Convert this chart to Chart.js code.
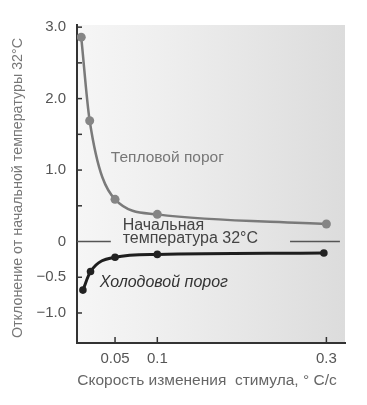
<!DOCTYPE html>
<html>
<head>
<meta charset="utf-8">
<script src="https://cdn.jsdelivr.net/npm/chart.js@4.4.1/dist/chart.umd.min.js"></script>
<style>
    html, body { margin: 0; padding: 0; background: #fff; }
    #wrap { width: 367px; height: 405px; }
</style>
</head>
<body>
<div id="wrap"><canvas id="porogChart"></canvas></div>
<script>
// данные
const heatX = [0.01, 0.02, 0.05, 0.1, 0.3];
const heatY = [2.86, 1.69, 0.59, 0.38, 0.245];
const coldX = [0.012, 0.021, 0.05, 0.1, 0.297];
const coldY = [-0.68, -0.42, -0.22, -0.18, -0.16];

const xTicks = [0.05, 0.1, 0.3];
const xTickLabels = ['0.05', '0.1', '0.3'];
const yTicks = [3, 2.5, 2, 1.5, 1, 0.5, 0, -0.5, -1];
const yTickLabels = ['3.0', '', '2.0', '', '1.0', '', '0', '\u22120.5', '\u22121.0'];

const xTitle = 'Скорость изменения  стимула, ° С/с';
const yTitle = 'Отклонение от начальной температуры 32°C';
const heatLabel = 'Тепловой порог';
const coldLabel = 'Холодовой порог';
const startLabel = ['Начальная', 'температура 32°C'];

const toPoints = (xs, ys) => xs.map((x, i) => ({ x: x, y: ys[i] }));

const font = '"Liberation Sans", Arial, sans-serif';

const extras = {
    id: 'extras',
    beforeDraw(chart) {
        const { ctx, chartArea: a } = chart;
        const g = ctx.createLinearGradient(a.left, 0, a.right, 0);
        g.addColorStop(0, '#f6f6f6');
        g.addColorStop(0.3, '#efefef');
        g.addColorStop(1, '#dcdcdc');
        ctx.save();
        ctx.fillStyle = g;
        ctx.fillRect(a.left, a.top, a.right - a.left, a.bottom - a.top);
        ctx.restore();
    },
    afterDraw(chart) {
        const { ctx, chartArea: a, scales: { x, y } } = chart;
        ctx.save();
        // засечки внутрь
        ctx.strokeStyle = '#333';
        ctx.lineWidth = 1.5;
        yTicks.forEach(v => {
            if (v === 0) return;
            const py = y.getPixelForValue(v);
            ctx.beginPath();
            ctx.moveTo(a.left, py);
            ctx.lineTo(a.left + 5, py);
            ctx.stroke();
        });
        xTicks.forEach(v => {
            const px = x.getPixelForValue(v);
            ctx.beginPath();
            ctx.moveTo(px, a.bottom);
            ctx.lineTo(px, a.bottom - 6);
            ctx.stroke();
        });

        // линия нуля (начальная температура)
        const y0 = y.getPixelForValue(0);
        ctx.strokeStyle = '#555';
        ctx.lineWidth = 1.5;
        ctx.beginPath();
        ctx.moveTo(a.left, y0);
        ctx.lineTo(x.getPixelForValue(0.045), y0);
        ctx.moveTo(x.getPixelForValue(0.257), y0);
        ctx.lineTo(x.getPixelForValue(0.316), y0);
        ctx.stroke();

        // подписи кривых
        ctx.textBaseline = 'middle';
        ctx.textAlign = 'left';
        ctx.fillStyle = '#777';
        ctx.font = '15.5px ' + font;
        ctx.fillText(heatLabel, x.getPixelForValue(0.045), y.getPixelForValue(1.17));
        ctx.fillStyle = '#444';
        ctx.font = '16px ' + font;
        ctx.fillText(startLabel[0], x.getPixelForValue(0.059), y.getPixelForValue(0.22));
        ctx.fillText(startLabel[1], x.getPixelForValue(0.059), y.getPixelForValue(0.04));
        ctx.fillStyle = '#333';
        ctx.font = 'italic 16px ' + font;
        ctx.fillText(coldLabel, x.getPixelForValue(0.032), y.getPixelForValue(-0.57));

        // названия осей
        ctx.fillStyle = '#666';
        ctx.font = '15.5px ' + font;
        ctx.textAlign = 'center';
        ctx.fillText(xTitle, 207, 381);
        ctx.translate(18, 188);
        ctx.rotate(-Math.PI / 2);
        ctx.fillStyle = '#777';
        ctx.font = '14.3px ' + font;
        ctx.fillText(yTitle, 0, 0);
        ctx.restore();
    }
};

document.addEventListener('DOMContentLoaded', () => {
    const canvas = document.getElementById('porogChart');
    const ctx = canvas.getContext('2d');

    new Chart(ctx, {
        type: 'scatter',
        data: {
            datasets: [{
                label: heatLabel,
                data: toPoints(heatX, heatY),
                showLine: true,
                cubicInterpolationMode: 'monotone',
                borderColor: '#7a7a7a',
                borderWidth: 2.5,
                pointRadius: 4.5,
                pointBackgroundColor: '#858585',
                pointBorderWidth: 0
            }, {
                label: coldLabel,
                data: toPoints(coldX, coldY),
                showLine: true,
                cubicInterpolationMode: 'monotone',
                borderColor: '#1e1e1e',
                borderWidth: 3,
                pointRadius: 3.8,
                pointBackgroundColor: '#222',
                pointBorderWidth: 0
            }]
        },
        options: {
            responsive: true,
            maintainAspectRatio: false,
            animation: false,
            layout: { padding: { top: 25, right: 22, left: 0, bottom: 0 } },
            plugins: {
                legend: { display: false },
                tooltip: { enabled: false }
            },
            scales: {
                x: {
                    type: 'linear',
                    min: 0.005,
                    max: 0.322,
                    afterFit: s => { s.height = 62; },
                    afterBuildTicks: s => { s.ticks = xTicks.map(v => ({ value: v })); },
                    grid: { drawOnChartArea: false, drawTicks: false },
                    border: { color: '#333', width: 2 },
                    ticks: {
                        padding: 7,
                        color: '#555',
                        font: { family: font, size: 15 },
                        callback: v => xTickLabels[xTicks.indexOf(v)]
                    }
                },
                y: {
                    min: -1.42,
                    max: 3.03,
                    afterFit: s => { s.width = 77; },
                    afterBuildTicks: s => { s.ticks = yTicks.map(v => ({ value: v })); },
                    grid: { drawOnChartArea: false, drawTicks: false },
                    border: { color: '#333', width: 2 },
                    ticks: {
                        padding: 11,
                        color: '#555',
                        font: { family: font, size: 15 },
                        callback: v => yTickLabels[yTicks.indexOf(v)]
                    }
                }
            }
        },
        plugins: [extras]
    });
});
</script>
</body>
</html>
